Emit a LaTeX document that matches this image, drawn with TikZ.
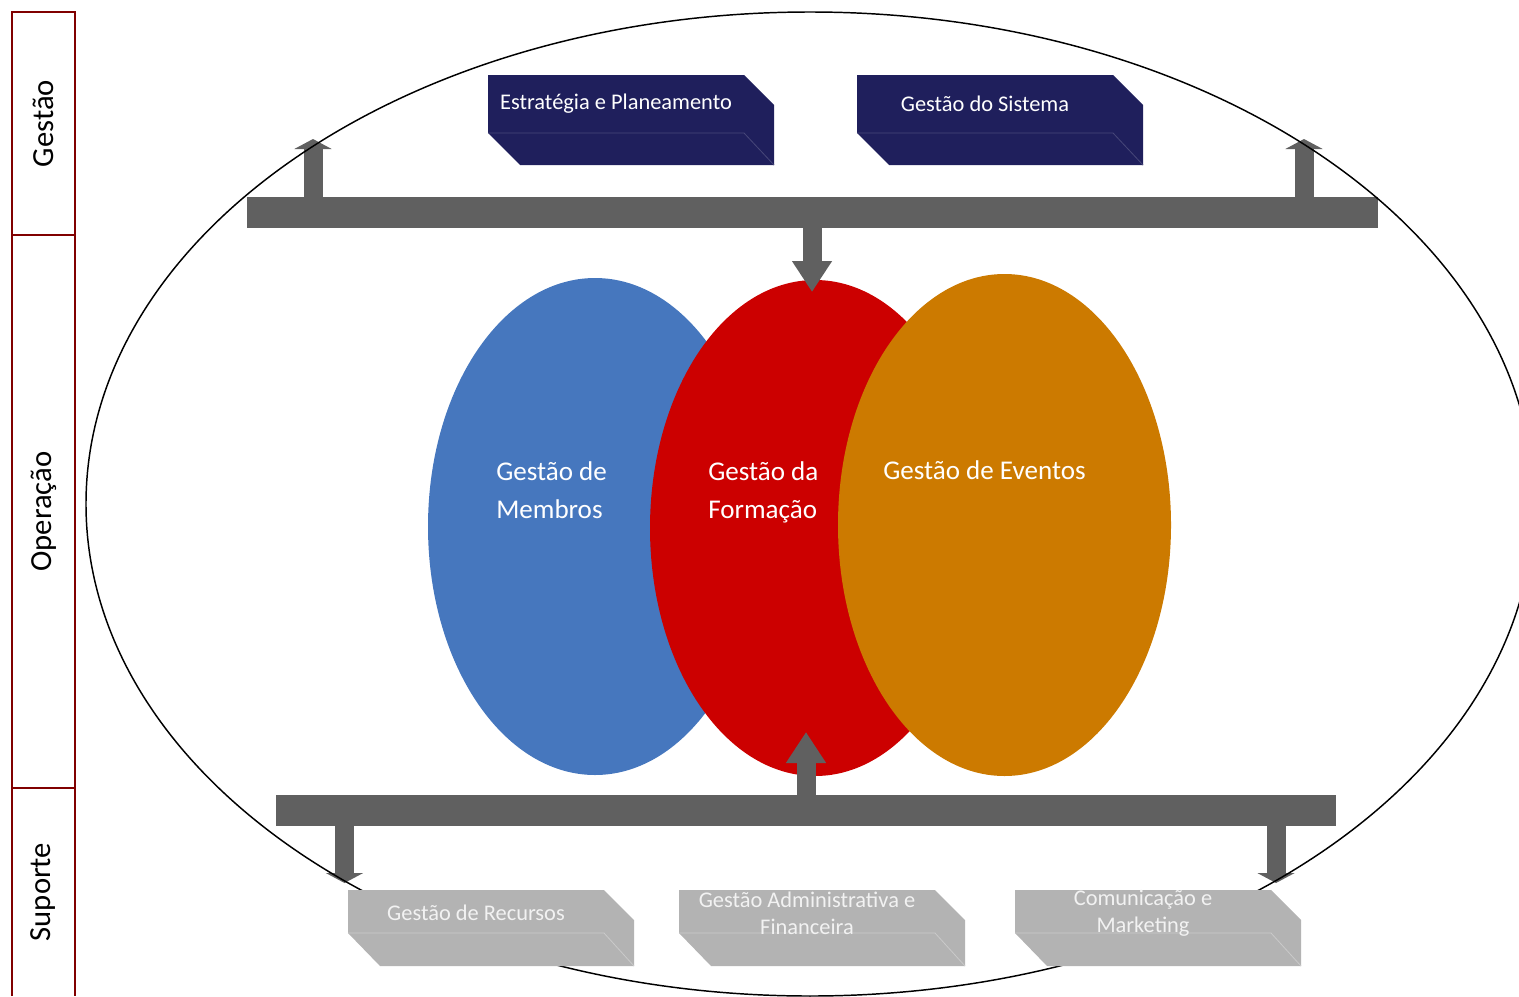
\documentclass[tikz,border=0pt]{standalone}
\usepackage{fontspec}
\setmainfont{Carlito}
\usetikzlibrary{shapes.geometric,arrows.meta}

\definecolor{sidered}{RGB}{128,0,0}
\definecolor{bargray}{RGB}{96,96,96}
\definecolor{navybox}{RGB}{31,31,92}
\definecolor{greybox}{RGB}{179,179,179}
\definecolor{membros}{RGB}{70,119,190}
\definecolor{formacao}{RGB}{204,0,0}
\definecolor{eventos}{RGB}{204,122,0}

\tikzset{
    bar/.style={fill=bargray, minimum height=23.25pt, inner sep=0pt, outer sep=0pt, anchor=north west},
    blob/.style={ellipse, inner sep=0pt, outer sep=0pt, minimum width=250pt, minimum height=373pt},
    blobtext/.style={text=white, align=left, anchor=west, inner sep=0pt, font=\fontsize{20.3}{28.5}\selectfont},
    boxtext/.style={text=white, align=center, font=\fontsize{16.8}{20}\selectfont},
    sidelabel/.style={rotate=90, font=\fontsize{23}{28}\selectfont},
    longarrow/.style={draw=bargray, line width=14.25pt, -{Triangle[width=28.5pt,length=23.25pt]}},
    flatarrow/.style={draw=bargray, line width=14.25pt, -{Triangle[width=27.75pt,length=7.5pt]}}
}

\begin{document}
\begin{tikzpicture}[x=0.75pt,y=-0.75pt]
    \useasboundingbox (0,0) rectangle (1519,996);

    % side column
    \draw[sidered, line width=2.2pt] (12,996) -- (12,12) -- (75,12) -- (75,996);
    \draw[sidered, line width=2.2pt] (12,235) -- (75,235) (12,788) -- (75,788);
    \node[sidelabel] (gestao) at (43.5,123.5) {Gestão};
    \node[sidelabel] (operacao) at (43.5,511.5) {Operação};
    \node[sidelabel] (suporte) at (43.5,892) {Suporte};

    % bars
    \node[bar, minimum width=848.25pt] (topbar) at (247,197) {};
    \node[bar, minimum width=795pt] (botbar) at (276,795) {};

    % the three areas
    \node[blob, fill=membros, minimum width=250.5pt, minimum height=372.75pt] (membros) at (595,526.5) {};
    \node[blob, fill=formacao, minimum width=247.5pt, minimum height=372pt] (formacao) at (815,528) {};
    \node[blob, fill=eventos, minimum width=249.75pt, minimum height=376.5pt] (eventos) at (1004.5,525) {};
    \node[blobtext] (membrostxt) at (496,490) {Gestão de\\Membros};
    \node[blobtext] (formacaotxt) at (708,492) {Gestão da\\Formação};
    \node[blobtext] (eventostxt) at (883,470) {Gestão de Eventos};

    % arrows
    \coordinate (upL) at (313,139);
    \coordinate (upR) at (1304,139);
    \coordinate (downM) at (812,292);
    \coordinate (upM) at (806,732);
    \coordinate (downL) at (344.5,883);
    \coordinate (downR) at (1276,883);
    \draw[flatarrow] (topbar.north -| upL) -- (upL);
    \draw[flatarrow] (topbar.north -| upR) -- (upR);
    \draw[longarrow] (topbar.south -| downM) -- (downM);
    \draw[longarrow] (botbar.north -| upM) -- (upM);
    \draw[flatarrow] (botbar.south -| downL) -- (downL);
    \draw[flatarrow] (botbar.south -| downR) -- (downR);

    % outer ellipse
    \node[ellipse, draw, line width=1.1pt, inner sep=0pt, minimum width=1086pt, minimum height=738pt] (systema) at (810,504) {};

    % management boxes
    \foreach \x/\name/\txt in {488/estrategia/{Estratégia e Planeamento}, 857/sistema/{Gestão do Sistema}} {
        \fill[navybox] (\x,75) -- ++(256,0) -- ++(30,30) -- ++(0,60) -- ++(-254,0) -- ++(-32,-32) -- cycle;
        \draw[white!18!navybox, line width=0.6pt] (\x,133) -- ++(256,0) -- ++(30,32);
        \node[boxtext] (\name) at (\x+128,104) {\txt};
    }

    % support boxes
    \foreach \x/\name/\txt in {348/recursos/{Gestão de Recursos}, 679/financeira/{Gestão Administrativa e\\Financeira}, 1015/marketing/{Comunicação e\\Marketing}} {
        \fill[greybox] (\x,890) -- ++(256,0) -- ++(30,30) -- ++(0,46) -- ++(-254,0) -- ++(-32,-33) -- cycle;
        \draw[white!30!greybox, line width=0.6pt] (\x,933) -- ++(256,0) -- ++(30,33);
        \node[boxtext, text=white!95!black] (\name) at (\x+128,913) {\txt};
    }
\end{tikzpicture}
\end{document}
